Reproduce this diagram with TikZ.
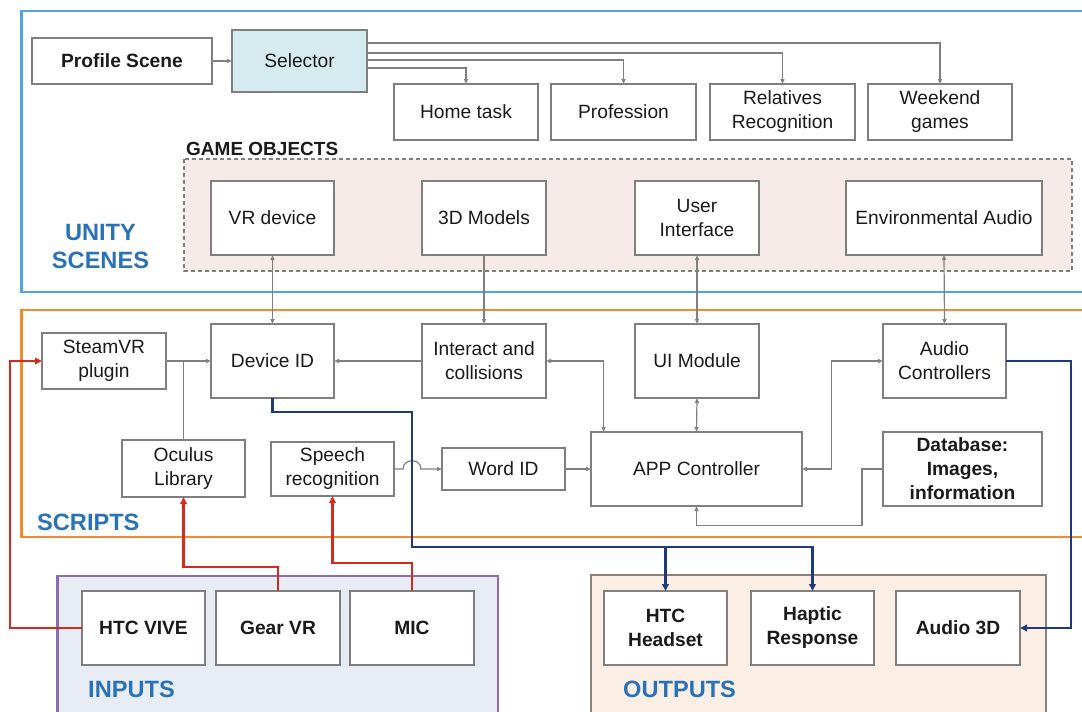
\documentclass[tikz,border=0pt]{standalone}
\usepackage{fontspec}
\setmainfont{Liberation Sans}
\usetikzlibrary{arrows.meta}
\definecolor{unityc}{HTML}{4EA6DC}
\definecolor{scriptc}{HTML}{F28A2E}
\definecolor{inputc}{HTML}{8D6BB0}
\definecolor{inputf}{HTML}{E8EDF5}
\definecolor{outc}{HTML}{8A817A}
\definecolor{outf}{HTML}{FBEFE5}
\definecolor{gof}{HTML}{F6EBE9}
\definecolor{self}{HTML}{D6EBF0}
\definecolor{lbl}{HTML}{2A72B8}
\definecolor{boxg}{HTML}{7F7F7F}
\definecolor{conng}{HTML}{808080}
\definecolor{txt}{HTML}{1A1A1A}
\definecolor{redc}{HTML}{D42A20}
\definecolor{bluec}{HTML}{1F3A7A}
\newcommand\bxfont{\fontsize{19.2}{24}\selectfont}
\newcommand\lblfont{\fontsize{23.6}{28}\selectfont\bfseries}
\tikzset{
  box/.style={draw=boxg, line width=1.4pt, fill=white, inner sep=0pt, outer sep=0pt, align=center, font=\bxfont, text=txt},
  bbox/.style={box, font=\bxfont\bfseries},
  sz/.style 2 args={minimum width=#1pt, minimum height=#2pt},
  conn/.style={draw=conng, line width=1.2pt},
  ga/.style={conn, -{Triangle[length=5pt,width=4pt]}},
  gaa/.style={conn, {Triangle[length=5pt,width=4pt]}-{Triangle[length=5pt,width=4pt]}},
  rd/.style={draw=redc, line width=2.2pt, -{Triangle[length=7pt,width=6.5pt]}},
  bl/.style={draw=bluec, line width=2.2pt, -{Triangle[length=7pt,width=6.5pt]}},
  lab/.style={text=lbl, font=\lblfont, inner sep=0pt, align=center}
}
\begin{document}
\begin{tikzpicture}[x=1pt,y=-1pt]
\useasboundingbox (0,0) rectangle (1082,712);
\clip (0,0) rectangle (1082,712);
% frames
\draw[unityc, line width=2.5pt] (21.5,11) rectangle (1095,292);
\draw[scriptc, line width=2.5pt] (21.5,310) rectangle (1095,537);
\draw[inputc, fill=inputf, line width=2.5pt] (57.5,576) rectangle (498,725);
\draw[outc, fill=outf, line width=2pt] (591,575) rectangle (1045.5,725);
\draw[boxg, fill=gof, line width=1.3pt, dash pattern=on 4pt off 3pt] (184,159) rectangle (1072,271);
% labels
\node[lab] (lunity) at (100.5,246) {UNITY\\SCENES};
\node[lab, anchor=west] (lscripts) at (37,522.5) {SCRIPTS};
\node[lab, anchor=west] (linputs) at (88,689) {INPUTS};
\node[lab, anchor=west] (loutputs) at (623,689) {OUTPUTS};
\node[anchor=west, inner sep=0pt, font=\fontsize{19}{22}\selectfont\bfseries, text=txt] (lgo) at (186,149) {GAME OBJECTS};
% unity scenes
\node[bbox, sz={180}{46}] (profile) at (122,61) {Profile Scene};
\node[box, sz={135}{62}, fill=self] (selector) at (299.5,61) {Selector};
\node[box, sz={144}{56}] (home) at (466,112) {Home task};
\node[box, sz={145}{56}] (prof) at (623.5,112) {Profession};
\node[box, sz={145}{56}] (rel) at (782.5,112) {Relatives\\Recognition};
\node[box, sz={144}{56}] (week) at (940,112) {Weekend\\games};
% game objects
\node[box, sz={123}{74}] (vr) at (272.5,218) {VR device};
\node[box, sz={124}{74}] (models) at (484,218) {3D Models};
\node[box, sz={124}{74}] (ui) at (697,218) {User\\Interface};
\node[box, sz={196}{74}] (env) at (944,218) {Environmental Audio};
% scripts
\node[box, sz={124}{56}] (steam) at (104,361) {SteamVR\\plugin};
\node[box, sz={123}{74}] (devid) at (272.5,361) {Device ID};
\node[box, sz={124}{74}] (interact) at (484,361) {Interact and\\collisions};
\node[box, sz={124}{74}] (uimod) at (697,361) {UI Module};
\node[box, sz={123}{74}] (audioc) at (944.5,361) {Audio\\Controllers};
\node[box, sz={123}{57}] (oculus) at (183.5,468.5) {Oculus\\Library};
\node[box, sz={123}{54}] (speech) at (332.5,469) {Speech\\recognition};
\node[box, sz={123}{42}] (word) at (503.5,469) {Word ID};
\node[box, sz={211}{74}] (app) at (696.5,469) {APP Controller};
\node[bbox, sz={159}{74}] (db) at (962.5,469) {Database:\\Images,\\information};
% inputs
\node[bbox, sz={123}{74}] (vive) at (143.5,628) {HTC VIVE};
\node[bbox, sz={124}{74}] (gear) at (278,628) {Gear VR};
\node[bbox, sz={124}{74}] (mic) at (412,628) {MIC};
% outputs
\node[bbox, sz={123}{74}] (headset) at (665.5,628) {HTC\\Headset};
\node[bbox, sz={123}{74}] (haptic) at (812.5,628) {Haptic\\Response};
\node[bbox, sz={124}{74}] (audio3d) at (958,628) {Audio 3D};
% grey connectors
\draw[ga] (profile.east) -- (selector.west);
\draw[ga] (selector.east) ++(0,-18) -| (week.north);
\draw[ga] (selector.east) ++(0,-8) -| (rel.north);
\draw[ga] (selector.east) ++(0,-1) -| (prof.north);
\draw[ga] (selector.east) ++(0,7) -| (home.north);
\draw[gaa] (vr.south) -- (devid.north);
\draw[ga] (models.south) -- (interact.north);
\draw[gaa] (ui.south) -- (uimod.north);
\draw[gaa] (env.south) -- (audioc.north);
\draw[ga] (steam.east) -- (devid.west);
\draw[conn] (oculus.north) -- (oculus.north |- steam.east);
\draw[ga] (interact.west) -- (devid.east);
\draw[gaa] (interact.east) -| (603.6,432);
\draw[gaa] (uimod.south) -- (app.north);
\draw[gaa] (app.east) -| (831.4,361) -- (audioc.west);
\draw[ga] (db.west) -| (862,525.3) -| (app.south);
\draw[ga] (speech.east) -- (403,469) .. controls (403,458) and (421,458) .. (421,469) -- (word.west);
\draw[ga] (word.east) -- (app.west);
% blue outputs
\draw[bl] (devid.south) |- (411.6,412) -- (411.6,546.7) -| (haptic.north);
\draw[bl] (411.6,546.7) -| (headset.north);
\draw[bl] (audioc.east) -| (1071.3,628) -- (audio3d.east);
% red inputs
\draw[rd] (vive.west) -| (9.6,361) -- (steam.west);
\draw[rd] (gear.north) -- ++(0,-24) -| (oculus.south);
\draw[rd] (mic.north) -- ++(0,-28) -| (speech.south);
\end{tikzpicture}
\end{document}
